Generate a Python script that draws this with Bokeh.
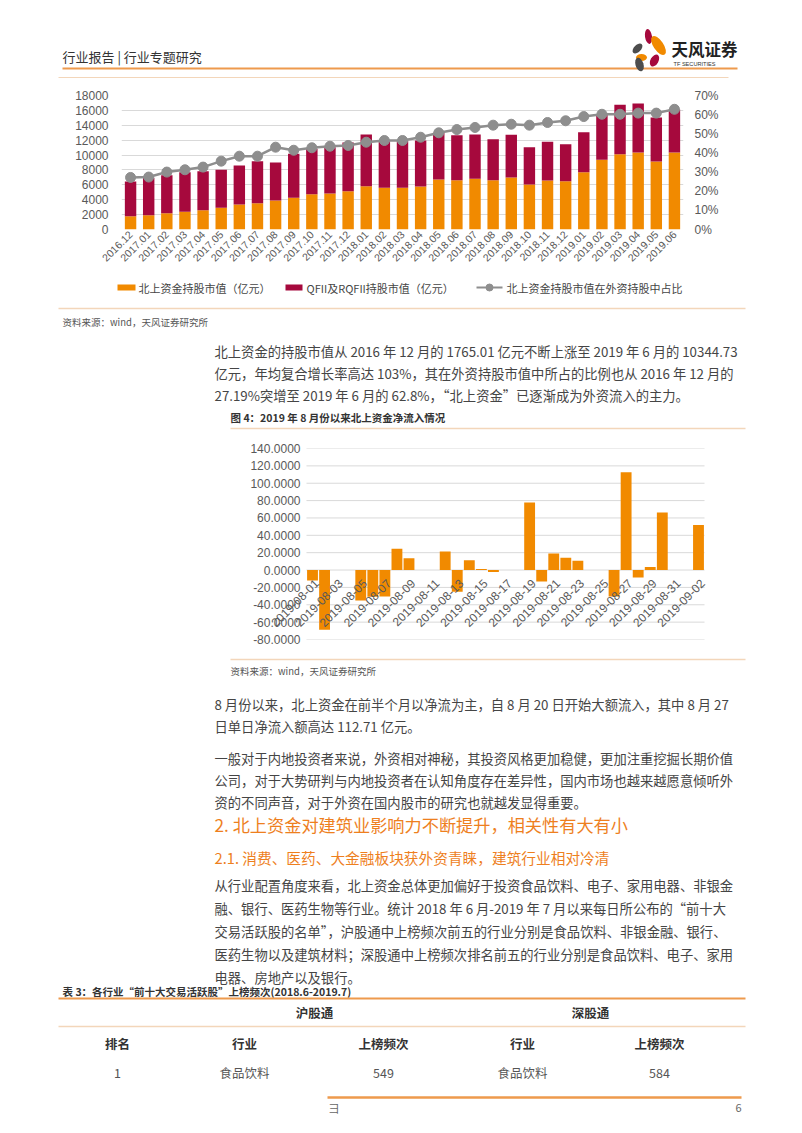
import math
from bokeh.plotting import figure
from bokeh.models import (Range1d, FactorRange, LinearAxis, FixedTicker, PrintfTickFormatter,
                          ColumnDataSource, LabelSet)
from bokeh.layouts import column
from bokeh.embed import file_html
from bokeh.resources import INLINE
from bokeh.core.properties import value

# ---------------- data: chart 1 ----------------
months = ["2016.12", "2017.01", "2017.02", "2017.03", "2017.04", "2017.05", "2017.06",
          "2017.07", "2017.08", "2017.09", "2017.10", "2017.11", "2017.12", "2018.01",
          "2018.02", "2018.03", "2018.04", "2018.05", "2018.06", "2018.07", "2018.08",
          "2018.09", "2018.10", "2018.11", "2018.12", "2019.01", "2019.02", "2019.03",
          "2019.04", "2019.05", "2019.06"]
north_value = [1765, 1925, 2194, 2373, 2597, 2910, 3358, 3537, 3895, 4253, 4746, 4835,
               5149, 5820, 5597, 5597, 5776, 6716, 6626, 6805, 6626, 6984, 6044, 6582,
               6492, 7701, 9357, 10118, 10342, 9134, 10345]
qfii_value = [4682, 5015, 5104, 5327, 5238, 5104, 5238, 5641, 5104, 5910, 6089, 6224,
              6537, 6940, 6357, 6357, 6178, 6268, 6044, 5955, 5507, 5731, 5015, 5193,
              4970, 5373, 6045, 6627, 6582, 5910, 5773]
north_share = [27.19, 27.4, 30.0, 31.2, 32.6, 35.7, 38.3, 38.3, 43.0, 41.4, 42.7, 43.5,
               43.9, 45.6, 46.5, 46.5, 48.2, 50.5, 52.2, 53.3, 54.5, 55.0, 54.5, 55.9,
               56.8, 59.0, 60.2, 60.2, 60.8, 60.8, 62.8]
left_ticks = [0, 2000, 4000, 6000, 8000, 10000, 12000, 14000, 16000, 18000]
right_ticks = [0, 10, 20, 30, 40, 50, 60, 70]
legend_labels = ["北上资金持股市值（亿元）", "QFII及RQFII持股市值（亿元）",
                 "北上资金持股市值在外资持股中占比"]

# ---------------- data: chart 2 ----------------
calendar_days = ["2019-08-01", "2019-08-02", "2019-08-03", "2019-08-04", "2019-08-05",
                 "2019-08-06", "2019-08-07", "2019-08-08", "2019-08-09", "2019-08-10",
                 "2019-08-11", "2019-08-12", "2019-08-13", "2019-08-14", "2019-08-15",
                 "2019-08-16", "2019-08-17", "2019-08-18", "2019-08-19", "2019-08-20",
                 "2019-08-21", "2019-08-22", "2019-08-23", "2019-08-24", "2019-08-25",
                 "2019-08-26", "2019-08-27", "2019-08-28", "2019-08-29", "2019-08-30",
                 "2019-08-31", "2019-09-01", "2019-09-02"]
day_labels = ["2019-08-01", "2019-08-03", "2019-08-05", "2019-08-07", "2019-08-09",
              "2019-08-11", "2019-08-13", "2019-08-15", "2019-08-17", "2019-08-19",
              "2019-08-21", "2019-08-23", "2019-08-25", "2019-08-27", "2019-08-29",
              "2019-08-31", "2019-09-02"]
trade_days = ["2019-08-01", "2019-08-02", "2019-08-05", "2019-08-06", "2019-08-07",
              "2019-08-08", "2019-08-09", "2019-08-12", "2019-08-13", "2019-08-14",
              "2019-08-15", "2019-08-16", "2019-08-19", "2019-08-20", "2019-08-21",
              "2019-08-22", "2019-08-23", "2019-08-26", "2019-08-27", "2019-08-28",
              "2019-08-29", "2019-08-30", "2019-09-02"]
net_inflow = [-11.9, -68.8, -35.0, -30.8, -30.4, 24.6, 13.5, 21.5, -25.0, 11.2, 1.2, -2.3,
              77.7, -13.1, 19.2, 14.2, 10.8, -30.4, 112.71, -8.5, 3.5, 66.2, 51.9]
flow_ticks = [-80, -60, -40, -20, 0, 20, 40, 60, 80, 100, 120, 140]

# ---------------- styles ----------------
W = 786
ORANGE = "#F18A00"
RED = "#A6093D"
LGRAY = "#8E8E8E"
GRID = "#D9D9D9"
TICK = "#595959"
BODY = "#454545"
HEAD = "#EE7F1E"
RULE = "#EE9A4D"
FAINT = "#F3D6BA"
CJK = "Noto Sans CJK SC"
LAT = "Liberation Sans"


def page(y0, y1):
    p = figure(width=W, height=y1 - y0, x_range=Range1d(0, W), y_range=Range1d(y1, y0),
               output_backend="svg", toolbar_location=None, min_border=0,
               x_axis_location=None, y_axis_location=None)
    p.frame_align = False
    p.grid.visible = False
    p.outline_line_color = None
    return p


def txt(p, x, y, s, size, color=BODY, font=CJK, align="left", style="normal"):
    p.text(x=[x], y=[y], text=[s], text_font=value(font), text_font_size=f"{size}px",
           text_color=color, text_align=align, text_baseline="middle", text_font_style=style)


def rule(p, x0, x1, y, color, w):
    p.segment(x0=[x0], y0=[y], x1=[x1], y1=[y], line_color=color, line_width=w)


def style_axis(ax, size, standoff):
    ax.axis_line_color = None
    ax.major_tick_line_color = None
    ax.minor_tick_line_color = None
    ax.major_tick_out = 0
    ax.major_tick_in = 0
    ax.minor_tick_out = 0
    ax.major_label_text_font = LAT
    ax.major_label_text_font_size = f"{size}px"
    ax.major_label_text_color = TICK
    ax.major_label_standoff = standoff


# ---------------- header ----------------
pA = page(0, 85)
txt(pA, 62, 56, "行业报告 | 行业专题研究", 13, "#333333")
rule(pA, 62, 737, 68, RULE, 2)
rule(pA, 58, 728, 77, FAINT, 1)
pA.ellipse(x=[648, 658, 637, 641, 639, 654], y=[36, 45, 48, 57, 64, 60],
           width=[7, 10, 7, 11, 8, 8], height=[15, 22, 12, 7, 14, 13],
           angle=[0.15, 0.6, -0.8, 0.0, 0.3, -0.5],
           fill_color=["#A6093D", ORANGE, "#4D4D4D", ORANGE, "#4D4D4D", "#A6093D"],
           line_color=None)
txt(pA, 671, 48, "天风证券", 16.5, "#222222", style="bold")
txt(pA, 673, 63, "TF SECURITIES", 5.6, "#333333", font=LAT)

# ---------------- chart 1 ----------------
src1 = ColumnDataSource(dict(month=months, north=north_value, qfii=qfii_value, share=north_share))
p1 = figure(width=W, height=191, x_range=FactorRange(factors=months), y_range=Range1d(0, 18000),
            output_backend="svg", toolbar_location=None,
            min_border_left=121, min_border_right=103, min_border_top=10, min_border_bottom=47)
p1.frame_align = False
p1.extra_y_ranges = {"share": Range1d(0, 70)}
bars = p1.vbar_stack(["north", "qfii"], x="month", width=0.63, fill_color=[ORANGE, RED],
                     line_color=None, source=src1)
ln = p1.line(x="month", y="share", y_range_name="share", source=src1, line_color=LGRAY,
             line_width=2.5)
pts = p1.scatter(x="month", y="share", y_range_name="share", source=src1, size=10,
                 fill_color=LGRAY, line_color=LGRAY)
p1.yaxis[0].ticker = FixedTicker(ticks=left_ticks)
style_axis(p1.yaxis[0], 12, 13)
ax_r = LinearAxis(y_range_name="share", ticker=FixedTicker(ticks=right_ticks),
                  formatter=PrintfTickFormatter(format="%d%%"))
style_axis(ax_r, 12, 11)
p1.add_layout(ax_r, "right")
style_axis(p1.xaxis[0], 10.5, 3)
p1.xaxis[0].major_label_orientation = math.pi / 4
p1.xgrid.visible = False
p1.ygrid.grid_line_color = GRID
p1.outline_line_color = None

# ---------------- legend + text block 1 ----------------
pC = page(276, 440)
pC.rect(x=[126, 293.5], y=[287, 287], width=[18, 17], height=[6, 6],
        fill_color=[ORANGE, RED], line_color=None)
pC.segment(x0=[476], y0=[287], x1=[502], y1=[287], line_color=LGRAY, line_width=2)
pC.scatter(x=[489], y=[287], size=7, fill_color=LGRAY, line_color=LGRAY)
for s, xx in zip(legend_labels, [138, 306, 506]):
    txt(pC, xx, 287, s, 11, BODY)
rule(pC, 58, 745, 308, FAINT, 1.5)
txt(pC, 62, 321, "资料来源：wind，天风证券研究所", 9.5, "#555555")
para1 = ["北上资金的持股市值从 2016 年 12 月的 1765.01 亿元不断上涨至 2019 年 6 月的 10344.73",
         "亿元，年均复合增长率高达 103%，其在外资持股市值中所占的比例也从 2016 年 12 月的",
         "27.19%突增至 2019 年 6 月的 62.8%，“北上资金”已逐渐成为外资流入的主力。"]
for s, yy in zip(para1, [351, 373, 395]):
    txt(pC, 214, yy, s, 13.3)
txt(pC, 230, 417, "图 4：2019 年 8 月份以来北上资金净流入情况", 10.5, "#333333", style="bold")
rule(pC, 230, 745, 428, FAINT, 1.5)

# ---------------- chart 2 ----------------
src2 = ColumnDataSource(dict(day=trade_days, flow=net_inflow))
p2 = figure(width=W, height=212,
            x_range=FactorRange(factors=calendar_days, range_padding=5.47,
                                range_padding_units="absolute"),
            y_range=Range1d(-80, 140), output_backend="svg", toolbar_location=None,
            min_border_left=240, min_border_right=16, min_border_top=8, min_border_bottom=13,
            x_axis_location=None)
p2.frame_align = False
grid_src = ColumnDataSource(dict(x0=[(calendar_days[0], -0.5)] * len(flow_ticks),
                                 x1=[(calendar_days[-1], 0.5)] * len(flow_ticks),
                                 y=flow_ticks))
p2.segment(x0="x0", y0="y", x1="x1", y1="y", source=grid_src, line_color=GRID, line_width=1)
p2.vbar(x="day", top="flow", bottom=0, width=0.9, source=src2, fill_color=ORANGE,
        line_color=None)
p2.yaxis[0].ticker = FixedTicker(ticks=flow_ticks)
p2.yaxis[0].formatter = PrintfTickFormatter(format="%.4f")
style_axis(p2.yaxis[0], 12, -60)
p2.grid.visible = False
p2.outline_line_color = None
lab_src = ColumnDataSource(dict(day=day_labels, base=[0] * len(day_labels)))
p2.add_layout(LabelSet(x="day", y="base", text="day", source=lab_src, angle=math.pi / 4,
                       text_align="right", text_baseline="middle", x_offset=4, y_offset=-11,
                       text_font=value(LAT), text_font_size="12px", text_color=TICK))

# ---------------- text block 2 ----------------
pE = page(652, 1117)
rule(pE, 230, 745, 659, FAINT, 1.5)
txt(pE, 230, 670, "资料来源：wind，天风证券研究所", 9.5, "#555555")
para2 = ["8 月份以来，北上资金在前半个月以净流为主，自 8 月 20 日开始大额流入，其中 8 月 27",
         "日单日净流入额高达 112.71 亿元。"]
for s, yy in zip(para2, [704, 726]):
    txt(pE, 214, yy, s, 13.3)
para3 = ["一般对于内地投资者来说，外资相对神秘，其投资风格更加稳健，更加注重挖掘长期价值",
         "公司，对于大势研判与内地投资者在认知角度存在差异性，国内市场也越来越愿意倾听外",
         "资的不同声音，对于外资在国内股市的研究也就越发显得重要。"]
for s, yy in zip(para3, [758, 780, 802]):
    txt(pE, 214, yy, s, 13.3)
txt(pE, 214, 824, "2. 北上资金对建筑业影响力不断提升，相关性有大有小", 17.2, HEAD)
txt(pE, 214, 857, "2.1. 消费、医药、大金融板块获外资青睐，建筑行业相对冷清", 14.7, HEAD)
para4 = ["从行业配置角度来看，北上资金总体更加偏好于投资食品饮料、电子、家用电器、非银金",
         "融、银行、医药生物等行业。统计 2018 年 6 月-2019 年 7 月以来每日所公布的“前十大",
         "交易活跃股的名单”，沪股通中上榜频次前五的行业分别是食品饮料、非银金融、银行、",
         "医药生物以及建筑材料；深股通中上榜频次排名前五的行业分别是食品饮料、电子、家用",
         "电器、房地产以及银行。"]
for s, yy in zip(para4, [885, 908, 931, 954, 977]):
    txt(pE, 214, yy, s, 13.3)
txt(pE, 62, 991, "表 3：各行业“前十大交易活跃股”上榜频次(2018.6-2019.7)", 10.5, "#333333",
    style="bold")
rule(pE, 58, 745, 998, RULE, 2)
txt(pE, 314, 1012, "沪股通", 12.5, "#333333", align="center", style="bold")
txt(pE, 590, 1012, "深股通", 12.5, "#333333", align="center", style="bold")
rule(pE, 58, 745, 1026, FAINT, 1.5)
for s, xx in zip(["排名", "行业", "上榜频次", "行业", "上榜频次"], [117, 244, 383, 522, 659]):
    txt(pE, xx, 1043, s, 12.5, "#333333", align="center", style="bold")
for s, xx in zip(["1", "食品饮料", "549", "食品饮料", "584"], [117, 244, 383, 522, 659]):
    txt(pE, xx, 1072, s, 12.5, "#555555", align="center")
rule(pE, 327, 741, 1097, RULE, 2.5)
txt(pE, 328, 1107, "彐", 11, "#666666")
txt(pE, 741, 1107, "6", 11, "#666666", align="right")

layout = column(pA, p1, pC, p2, pE, spacing=0)
open("out.html", "w").write(file_html(layout, INLINE))
